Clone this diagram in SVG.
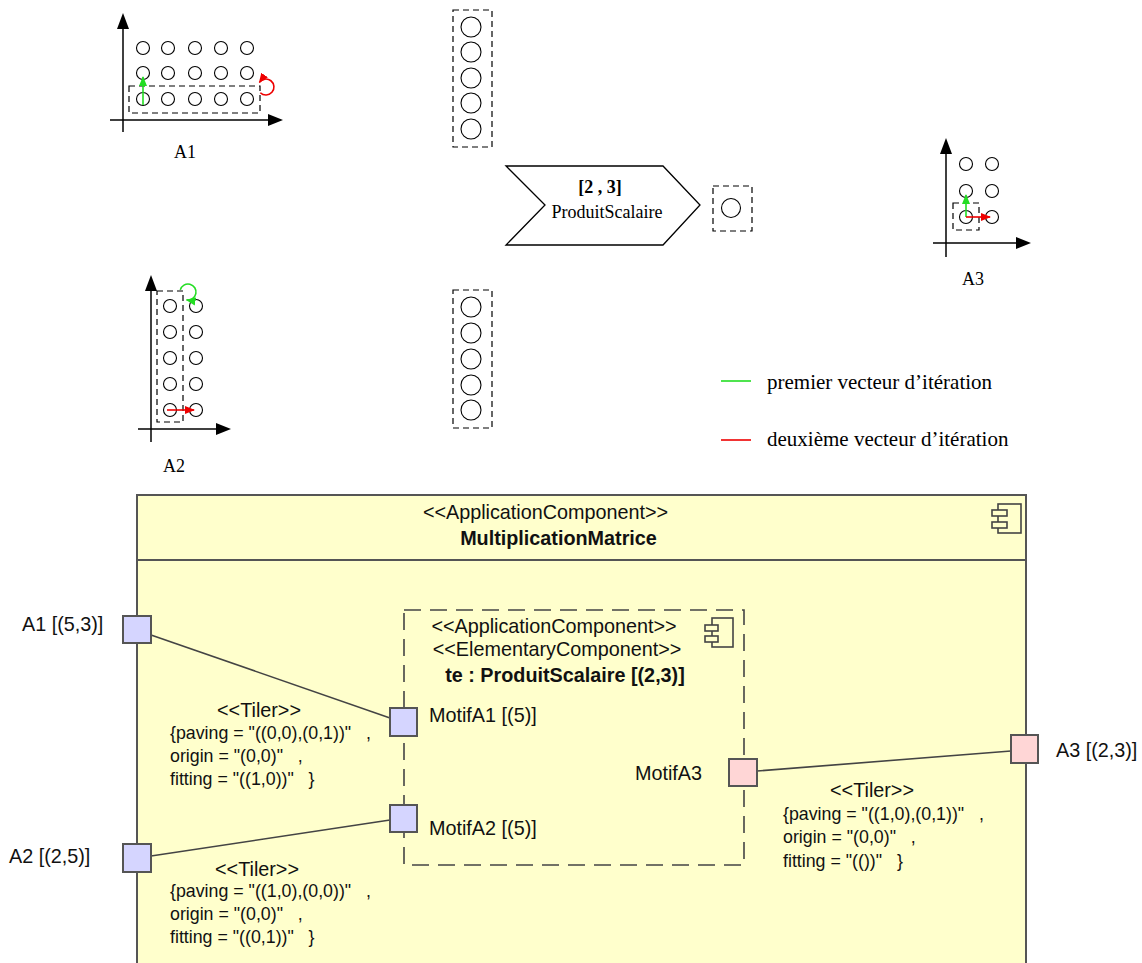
<svg xmlns="http://www.w3.org/2000/svg" width="1142" height="963" viewBox="0 0 1142 963">
<style>
.ax{stroke:#000;stroke-width:1.5;fill:none}
.ah{fill:#000}
.c{fill:none;stroke:#000;stroke-width:1.1}
.d{fill:none;stroke:#000;stroke-width:1.2;stroke-dasharray:6,4}
.g{stroke:#22dd22;stroke-width:1.6;fill:none}
.r{stroke:#ee0000;stroke-width:1.6;fill:none}
.serif{font-family:"Liberation Serif","Times New Roman",serif;font-size:18px;fill:#000}
.leg{font-family:"Liberation Serif","Times New Roman",serif;font-size:21px;fill:#000}
.sans{font-family:"Liberation Sans",Arial,sans-serif;font-size:19.8px;fill:#111}
.tl{font-family:"Liberation Sans",Arial,sans-serif;font-size:17.8px;fill:#111;white-space:pre}
.port{stroke:#555;stroke-width:2}
.blue{fill:#d5d5ff}
.pink{fill:#ffd6d6}
.conn{stroke:#444;stroke-width:1.6;fill:none}
</style>
<defs>
<marker id="mg" viewBox="0 0 10 10" refX="9" refY="5" markerWidth="10" markerHeight="10" markerUnits="userSpaceOnUse" orient="auto"><path d="M0,1 L10,5 L0,9 z" fill="#22dd22"/></marker>
<marker id="mr" viewBox="0 0 10 10" refX="9" refY="5" markerWidth="10" markerHeight="10" markerUnits="userSpaceOnUse" orient="auto"><path d="M0,1 L10,5 L0,9 z" fill="#ee0000"/></marker>
</defs>

<!-- A1 -->
<g id="A1">
<line class="ax" x1="123" y1="132" x2="123" y2="28"/>
<path class="ah" d="M123,13 L117,29 L129,29 z"/>
<line class="ax" x1="110" y1="120" x2="268" y2="120"/>
<path class="ah" d="M283,120 L268,114 L268,126 z"/>
<g>
<circle class="c" cx="143" cy="48" r="6.5"/><circle class="c" cx="168" cy="48" r="6.5"/><circle class="c" cx="195" cy="48" r="6.5"/><circle class="c" cx="221" cy="48" r="6.5"/><circle class="c" cx="247" cy="48" r="6.5"/>
<circle class="c" cx="143" cy="73" r="6.5"/><circle class="c" cx="168" cy="73" r="6.5"/><circle class="c" cx="195" cy="73" r="6.5"/><circle class="c" cx="221" cy="73" r="6.5"/><circle class="c" cx="247" cy="73" r="6.5"/>
<circle class="c" cx="143" cy="99" r="6.5"/><circle class="c" cx="168" cy="99" r="6.5"/><circle class="c" cx="195" cy="99" r="6.5"/><circle class="c" cx="221" cy="99" r="6.5"/><circle class="c" cx="247" cy="99" r="6.5"/>
</g>
<rect class="d" x="129" y="86" width="131" height="27"/>
<line class="g" x1="143" y1="105" x2="143" y2="77" marker-end="url(#mg)"/>
<path class="r" d="M260.3,92.7 A8,8 0 1 0 259.4,82.4" marker-end="url(#mr)"/>
<text class="serif" x="185" y="158" text-anchor="middle">A1</text>
</g>

<!-- A2 -->
<g id="A2">
<line class="ax" x1="151" y1="442" x2="151" y2="290"/>
<path class="ah" d="M151,275 L145,291 L157,291 z"/>
<line class="ax" x1="138" y1="429" x2="216" y2="429"/>
<path class="ah" d="M231,429 L216,423 L216,435 z"/>
<circle class="c" cx="170" cy="306" r="6.5"/><circle class="c" cx="196" cy="306" r="6.5"/>
<circle class="c" cx="170" cy="332" r="6.5"/><circle class="c" cx="196" cy="332" r="6.5"/>
<circle class="c" cx="170" cy="358" r="6.5"/><circle class="c" cx="196" cy="358" r="6.5"/>
<circle class="c" cx="170" cy="384" r="6.5"/><circle class="c" cx="196" cy="384" r="6.5"/>
<circle class="c" cx="170" cy="410" r="6.5"/><circle class="c" cx="196" cy="410" r="6.5"/>
<rect class="d" x="157" y="291" width="26" height="131"/>
<path class="g" d="M180.3,289.9 A8,8 0 1 1 186.6,299.9" marker-end="url(#mg)"/>
<line class="r" x1="167" y1="410" x2="194" y2="410" marker-end="url(#mr)"/>
<text class="serif" x="174" y="472" text-anchor="middle">A2</text>
</g>

<!-- A3 -->
<g id="A3">
<line class="ax" x1="946" y1="257" x2="946" y2="153"/>
<path class="ah" d="M946,138 L940,154 L952,154 z"/>
<line class="ax" x1="933" y1="243" x2="1016" y2="243"/>
<path class="ah" d="M1031,243 L1016,237 L1016,249 z"/>
<circle class="c" cx="966" cy="164" r="6.5"/><circle class="c" cx="992" cy="164" r="6.5"/>
<circle class="c" cx="966" cy="191" r="6.5"/><circle class="c" cx="992" cy="191" r="6.5"/>
<circle class="c" cx="966" cy="217" r="6.5"/><circle class="c" cx="992" cy="217" r="6.5"/>
<rect class="d" x="953" y="203" width="26" height="27"/>
<line class="g" x1="966" y1="217" x2="966" y2="195" marker-end="url(#mg)"/>
<line class="r" x1="966" y1="217" x2="990" y2="217" marker-end="url(#mr)"/>
<text class="serif" x="973" y="285" text-anchor="middle">A3</text>
</g>

<!-- vectors -->
<g id="V1">
<rect class="d" x="453" y="10" width="39" height="137"/>
<circle class="c" cx="471" cy="27" r="10"/><circle class="c" cx="471" cy="52" r="10"/><circle class="c" cx="471" cy="78" r="10"/><circle class="c" cx="471" cy="103" r="10"/><circle class="c" cx="471" cy="129" r="10"/>
</g>
<g id="V2">
<rect class="d" x="453" y="290" width="39" height="138"/>
<circle class="c" cx="471" cy="307" r="10"/><circle class="c" cx="471" cy="333" r="10"/><circle class="c" cx="471" cy="359" r="10"/><circle class="c" cx="471" cy="385" r="10"/><circle class="c" cx="471" cy="410" r="10"/>
</g>
<g id="V3">
<rect class="d" x="713" y="186" width="39" height="45"/>
<circle class="c" cx="731" cy="208" r="9.5"/>
</g>

<!-- chevron -->
<g id="ProduitScalaireTask">
<path d="M506,166 L663,166 L700,205 L663,245 L506,245 L545,205 z" fill="#fff" stroke="#000" stroke-width="1.3"/>
<text class="serif" x="600" y="193" text-anchor="middle" font-weight="bold">[2 , 3]</text>
<text class="serif" x="607" y="218" text-anchor="middle">ProduitScalaire</text>
</g>

<!-- legend -->
<g id="legend">
<line class="g" x1="721" y1="381" x2="751" y2="381"/>
<text class="leg" x="767" y="389">premier vecteur d’itération</text>
<line class="r" x1="721" y1="440" x2="751" y2="440"/>
<text class="leg" x="767" y="446">deuxième vecteur d’itération</text>
</g>

<!-- main component -->
<g id="MultiplicationMatrice">
<rect x="137" y="495" width="889" height="490" fill="#ffffcc" stroke="#555" stroke-width="2"/>
<line x1="137" y1="560" x2="1026" y2="560" stroke="#555" stroke-width="2"/>
<text class="sans" x="545.5" y="519" text-anchor="middle">&lt;&lt;ApplicationComponent&gt;&gt;</text>
<text class="sans" x="558.5" y="545" text-anchor="middle" font-weight="bold">MultiplicationMatrice</text>
<g fill="#ffffcc" stroke="#444" stroke-width="1.6">
<rect x="998" y="504" width="23" height="29"/>
<rect x="992" y="510" width="15" height="6"/>
<rect x="992" y="522" width="15" height="6"/>
</g>
</g>

<!-- inner component -->
<g id="te">
<rect x="404" y="610" width="340" height="255" fill="none" stroke="#444" stroke-width="1.6" stroke-dasharray="17,9"/>
<text class="sans" x="554" y="633" text-anchor="middle">&lt;&lt;ApplicationComponent&gt;&gt;</text>
<text class="sans" x="557" y="656" text-anchor="middle">&lt;&lt;ElementaryComponent&gt;&gt;</text>
<text class="sans" x="565" y="682" text-anchor="middle" font-weight="bold">te : ProduitScalaire [(2,3)]</text>
<g fill="#ffffcc" stroke="#444" stroke-width="1.6">
<rect x="712" y="618" width="21" height="29"/>
<rect x="705" y="625" width="13" height="6"/>
<rect x="705" y="636" width="13" height="6"/>
</g>
</g>

<!-- connectors -->
<g id="connectors">
<line class="conn" x1="151" y1="635" x2="390" y2="718"/>
<line class="conn" x1="151" y1="856" x2="390" y2="820"/>
<line class="conn" x1="757" y1="771" x2="1011" y2="751"/>
</g>

<!-- ports -->
<g id="portA1"><rect class="port blue" x="123" y="616" width="28" height="27"/><text class="sans" x="22" y="631">A1 [(5,3)]</text></g>
<g id="portA2"><rect class="port blue" x="123" y="844" width="28" height="28"/><text class="sans" x="9" y="863">A2 [(2,5)]</text></g>
<g id="portA3"><rect class="port pink" x="1011" y="735" width="27" height="28"/><text class="sans" x="1056" y="757">A3 [(2,3)]</text></g>
<g id="portMotifA1"><rect class="port blue" x="390" y="708" width="27" height="28"/><text class="sans" x="429" y="722">MotifA1 [(5)]</text></g>
<g id="portMotifA2"><rect class="port blue" x="390" y="805" width="27" height="27"/><text class="sans" x="429" y="835">MotifA2 [(5)]</text></g>
<g id="portMotifA3"><rect class="port pink" x="729" y="759" width="28" height="27"/><text class="sans" x="702" y="780" text-anchor="end">MotifA3</text></g>

<!-- tiler labels -->
<g id="tiler1">
<text class="sans" x="259" y="717" text-anchor="middle">&lt;&lt;Tiler&gt;&gt;</text>
<text class="tl" x="170" y="739" xml:space="preserve">{paving = "((0,0),(0,1))"   ,</text>
<text class="tl" x="170" y="762" xml:space="preserve">origin = "(0,0)"   ,</text>
<text class="tl" x="170" y="785" xml:space="preserve">fitting = "((1,0))"   }</text>
</g>
<g id="tiler2">
<text class="sans" x="257" y="876" text-anchor="middle">&lt;&lt;Tiler&gt;&gt;</text>
<text class="tl" x="170" y="897" xml:space="preserve">{paving = "((1,0),(0,0))"   ,</text>
<text class="tl" x="170" y="920" xml:space="preserve">origin = "(0,0)"   ,</text>
<text class="tl" x="170" y="943" xml:space="preserve">fitting = "((0,1))"   }</text>
</g>
<g id="tiler3">
<text class="sans" x="872" y="797" text-anchor="middle">&lt;&lt;Tiler&gt;&gt;</text>
<text class="tl" x="783" y="820" xml:space="preserve">{paving = "((1,0),(0,1))"   ,</text>
<text class="tl" x="783" y="843" xml:space="preserve">origin = "(0,0)"   ,</text>
<text class="tl" x="783" y="867" xml:space="preserve">fitting = "(())"   }</text>
</g>
</svg>
